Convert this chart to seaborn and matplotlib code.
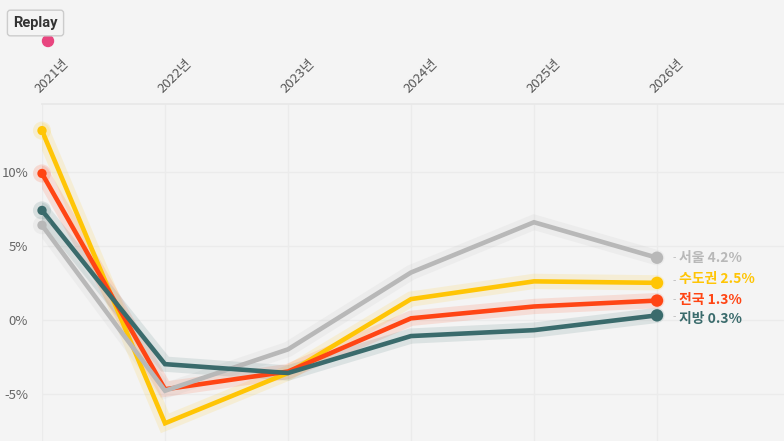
import matplotlib
matplotlib.use("Agg")
import matplotlib.pyplot as plt
from matplotlib.patches import Ellipse
import seaborn as sns
import pandas as pd

years = [2021, 2022, 2023, 2024, 2025, 2026]
year_labels = ["2021년", "2022년", "2023년", "2024년", "2025년", "2026년"]
regions = ["수도권", "전국", "서울", "지방"]
sudogwon = [12.8, -7.0, -3.6, 1.4, 2.6, 2.5]
jeonguk = [9.9, -4.7, -3.5, 0.1, 0.9, 1.3]
seoul = [6.4, -4.8, -2.0, 3.2, 6.6, 4.2]
jibang = [7.4, -3.0, -3.6, -1.1, -0.7, 0.3]
y_ticks = [-5, 0, 5, 10]
y_tick_labels = ["-5%", "0%", "5%", "10%"]

colors = {"수도권": "#ffc505", "전국": "#ff4514", "서울": "#b8b8b8", "지방": "#3a6b6c"}
series = {"수도권": sudogwon, "전국": jeonguk, "서울": seoul, "지방": jibang}

rows = []
for r in regions:
    for y, v in zip(years, series[r]):
        rows.append({"year": y, "value": v, "region": r})
df = pd.DataFrame(rows)

sns.set_theme(style="white")
plt.rcParams["font.family"] = ["Noto Sans CJK KR", "DejaVu Sans"]

fig = plt.figure(figsize=(7.84, 4.41), dpi=100, facecolor="#f4f4f4")
ax = fig.add_axes([42 / 784, 0.0, 1 - 42 / 784, 1 - 104 / 441])
ax.set_facecolor("#f4f4f4")

# halos
sns.lineplot(data=df, x="year", y="value", hue="region", hue_order=regions,
             palette=colors, linewidth=11, alpha=0.13, legend=False, ax=ax,
             solid_joinstyle="miter")
# main lines
sns.lineplot(data=df, x="year", y="value", hue="region", hue_order=regions,
             palette=colors, linewidth=3.3, legend=False, ax=ax,
             solid_joinstyle="miter")

first = df[df["year"] == years[0]]
last = df[df["year"] == years[-1]]
n_before = len(ax.collections)
sns.scatterplot(data=first, x="year", y="value", hue="region", hue_order=regions,
                palette=colors, s=170, alpha=0.15, edgecolor="none", legend=False, ax=ax, zorder=4)
sns.scatterplot(data=first, x="year", y="value", hue="region", hue_order=regions,
                palette=colors, s=45, edgecolor="none", legend=False, ax=ax, zorder=5)
sns.scatterplot(data=last, x="year", y="value", hue="region", hue_order=regions,
                palette=colors, s=80, edgecolor="none", legend=False, ax=ax, zorder=5)
for c in ax.collections[n_before:]:
    c.set_clip_on(False)

# end labels
label_offsets = {"서울": 0, "수도권": 2.5, "전국": 0.5, "지방": -2.5}
for r in regions:
    v = series[r][-1]
    ax.annotate("-", xy=(years[-1], v), xytext=(11, label_offsets[r] * 0.6),
                textcoords="offset points", ha="left", va="center",
                fontsize=7, color="#bbbbbb", zorder=6)
    ax.annotate(f"{r} {v:.1f}%", xy=(years[-1], v), xytext=(15.5, label_offsets[r]),
                textcoords="offset points", ha="left", va="center",
                fontsize=10, fontweight="bold", color=colors[r], zorder=6)

ax.set_xlim(2021, 2021 + 742 / 123)
ax.set_ylim(-8.2, 14.6)

ax.set_yticks(y_ticks)
ax.set_yticklabels(y_tick_labels)
ax.set_xticks(years)
ax.set_xticklabels(year_labels)
ax.xaxis.tick_top()
ax.tick_params(axis="x", length=0, pad=6, labelsize=9.5, labelcolor="#555555")
ax.tick_params(axis="y", length=0, pad=10, labelsize=9.5, labelcolor="#666666")
for lbl in ax.get_xticklabels():
    lbl.set_rotation(45)
    lbl.set_ha("left")
    lbl.set_va("bottom")
    lbl.set_rotation_mode("anchor")
    lbl.set_fontweight("light")
for lbl in ax.get_yticklabels():
    lbl.set_fontweight("light")

ax.grid(True, color="#ebebeb", linewidth=1)
ax.set_axisbelow(True)
for s in ["left", "right", "bottom"]:
    ax.spines[s].set_visible(False)
ax.spines["top"].set_color("#e8e8e8")
ax.set_xlabel("")
ax.set_ylabel("")

# Replay button
fig.text(35.5 / 784, 1 - 23 / 441, "Replay", ha="center", va="center", fontsize=10.5,
         fontweight="bold", color="#333333", family=["Roboto", "DejaVu Sans"],
         bbox=dict(boxstyle="round,pad=0.4,rounding_size=0.2", fc="#f4f4f4",
                   ec="#cccccc", lw=1))
fig.add_artist(Ellipse((48 / 784, 1 - 41 / 441), 11 / 784, 11 / 441,
                       transform=fig.transFigure, color="#e8457f"))
fig.savefig("out.png", dpi=100, facecolor="#f4f4f4")
